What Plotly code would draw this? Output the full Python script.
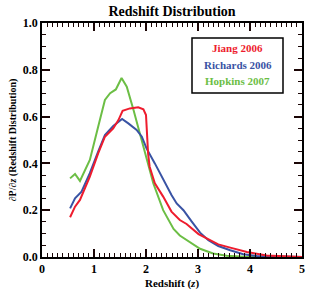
import plotly.graph_objects as go

# Jiang 2006
jiang_z = [0.54, 0.635, 0.73, 0.92, 1.08, 1.21, 1.37, 1.47, 1.55, 1.69, 1.85, 1.95, 2.0, 2.04, 2.07, 2.17, 2.33, 2.49, 2.65, 2.78, 3.01, 3.17, 3.39, 3.62, 3.94, 4.32, 4.83, 5.0]
jiang_p = [0.17, 0.215, 0.244, 0.343, 0.443, 0.514, 0.55, 0.585, 0.625, 0.635, 0.64, 0.631, 0.607, 0.443, 0.386, 0.315, 0.258, 0.194, 0.158, 0.141, 0.098, 0.078, 0.054, 0.04, 0.021, 0.006, 0.001, 0.0]

# Richards 2006
rich_z = [0.54, 0.635, 0.76, 0.92, 1.08, 1.21, 1.37, 1.47, 1.54, 1.66, 1.82, 1.92, 2.01, 2.17, 2.33, 2.49, 2.59, 2.72, 2.88, 3.04, 3.2, 3.39, 3.62, 3.87, 4.13, 4.5, 5.0]
rich_p = [0.208, 0.251, 0.279, 0.358, 0.45, 0.521, 0.56, 0.578, 0.59, 0.571, 0.543, 0.514, 0.464, 0.40, 0.329, 0.265, 0.229, 0.20, 0.151, 0.104, 0.072, 0.047, 0.029, 0.012, 0.004, 0.001, 0.0]

# Hopkins 2007
hop_z = [0.54, 0.635, 0.73, 0.92, 1.08, 1.21, 1.31, 1.42, 1.53, 1.63, 1.76, 1.88, 2.01, 2.14, 2.33, 2.53, 2.65, 2.85, 3.04, 3.29, 3.55, 3.9, 4.5, 5.0]
hop_p = [0.336, 0.355, 0.325, 0.415, 0.557, 0.671, 0.70, 0.716, 0.765, 0.728, 0.628, 0.528, 0.415, 0.315, 0.20, 0.12, 0.092, 0.063, 0.035, 0.015, 0.005, 0.001, 0.0, 0.0]

series = [
    ("Jiang 2006", jiang_z, jiang_p, "#EE1C2E"),
    ("Richards 2006", rich_z, rich_p, "#3953A4"),
    ("Hopkins 2007", hop_z, hop_p, "#6CBE45"),
]

x_ticks = [0, 1, 2, 3, 4, 5]
y_ticks = [0.0, 0.2, 0.4, 0.6, 0.8, 1.0]
y_tick_text = ["0.0", "0.2", "0.4", "0.6", "0.8", "1.0"]

FONT = "'Liberation Serif', 'Times New Roman', Times, serif"
TICKCOL = "#1a0505"

fig = go.Figure()
for name, zs, ps, col in [series[2], series[1], series[0]]:
    fig.add_trace(go.Scatter(x=zs, y=ps, mode="lines", name=name,
                             line=dict(color=col, width=2), showlegend=False))

axis_common = dict(
    showline=True, mirror="allticks", linecolor="black", linewidth=1.5,
    ticks="inside", ticklen=8, tickwidth=1.5, tickcolor=TICKCOL,
    showgrid=False, zeroline=False, automargin=False,
    tickfont=dict(family=FONT, size=12, color="black"),
)

fig.update_xaxes(autorange=True,
                 autorangeoptions=dict(minallowed=x_ticks[0], maxallowed=x_ticks[-1]),
                 tickmode="array", tickvals=x_ticks,
                 ticktext=[f"<b>{v}</b>" for v in x_ticks],
                 minor=dict(dtick=0.1, ticklen=4, tickwidth=1.2, tickcolor=TICKCOL, ticks="inside", showgrid=False),
                 title=dict(text="<b>Redshift (<i>z</i>)</b>", font=dict(family=FONT, size=11, color="black"), standoff=4),
                 **axis_common)
fig.update_yaxes(autorange=True,
                 autorangeoptions=dict(minallowed=y_ticks[0], maxallowed=y_ticks[-1]),
                 tickmode="array", tickvals=y_ticks,
                 ticktext=[f"<b>{t}</b>" for t in y_tick_text],
                 minor=dict(dtick=0.05, ticklen=4, tickwidth=1.2, tickcolor=TICKCOL, ticks="inside", showgrid=False),
                 title=dict(text="<b>∂P/∂<i>z</i> (Redshift Distribution)</b>", font=dict(family=FONT, size=10, color="black"), standoff=4),
                 **axis_common)

# legend box
fig.add_shape(type="rect", xref="paper", yref="paper",
              x0=(192 - 42) / 260, x1=(283 - 42) / 260,
              y0=(257 - 93) / 234, y1=(257 - 38) / 234,
              line=dict(color="black", width=1.5), fillcolor="white")
for i, (name, zs, ps, col) in enumerate(series):
    py = 48.5 + i * 16
    fig.add_annotation(xref="paper", yref="paper",
                       x=(237.5 - 42) / 260, y=(257 - py) / 234,
                       text=f"<b>{name}</b>", showarrow=False,
                       font=dict(family=FONT, size=11, color=col),
                       xanchor="center", yanchor="middle")

fig.update_layout(
    width=312, height=294,
    margin=dict(l=42, r=10, t=23, b=37, autoexpand=False),
    paper_bgcolor="white", plot_bgcolor="white",
    title=dict(text="<b>Redshift Distribution</b>", x=172 / 312, xanchor="center",
               y=1 - 11 / 294, yanchor="middle",
               font=dict(family=FONT, size=14, color="black")),
)

fig.write_html("out.html", config={"displayModeBar": False},
               post_script="document.body.style.margin='0';document.body.style.overflow='hidden';")
